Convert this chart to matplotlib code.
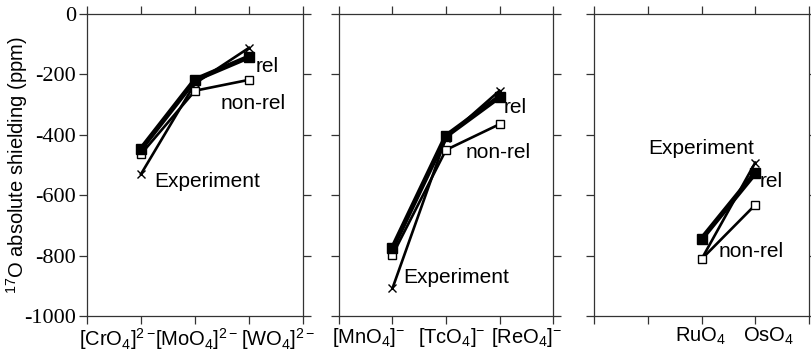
import os
import matplotlib
matplotlib.use("Agg")
import matplotlib.pyplot as plt
from matplotlib import font_manager
from matplotlib.font_manager import FontProperties

plt.rcParams['mathtext.fontset'] = 'custom'
plt.rcParams['mathtext.rm'] = 'Liberation Sans'
plt.rcParams['mathtext.it'] = 'Liberation Sans'
plt.rcParams['font.family'] = ['Liberation Sans', 'DejaVu Sans']
plt.rcParams['font.serif'] = ['Liberation Serif', 'DejaVu Serif']

# Data
cats1 = [r'$\mathregular{[CrO_4]^{2-}}$', r'$\mathregular{[MoO_4]^{2-}}$', r'$\mathregular{[WO_4]^{2-}}$']
cats2 = [r'$\mathregular{[MnO_4]^{-}}$', r'$\mathregular{[TcO_4]^{-}}$', r'$\mathregular{[ReO_4]^{-}}$']
cats3 = [r'$\mathregular{RuO_4}$', r'$\mathregular{OsO_4}$']

pos1 = [1, 2, 3]
pos2 = [1, 2, 3]
pos3 = [2, 3]

rel1 = [-447, -218, -142]
nonrel1 = [-464, -254, -218]
exp1 = [-530, -230, -112]

rel2 = [-775, -404, -274]
nonrel2 = [-798, -450, -365]
exp2 = [-908, -410, -254]

rel3 = [-745, -526]
nonrel3 = [-812, -632]
exp3 = [-812, -492]

yticks = [0, -200, -400, -600, -800, -1000]
ytick_labels = ['0', '-200', '-400', '-600', '-800', '-1000']

# label offsets (pixels) for category labels
offs1 = [-24, 2, 29]
offs2 = [-24, 6, 27]
offs3 = [-1, 13]

# annotation text positions (x, y) per panel
ann1 = {'rel': (3.13, -175), 'non-rel': (2.48, -298), 'Experiment': (1.24, -556)}
ann2 = {'rel': (3.08, -308), 'non-rel': (2.37, -457), 'Experiment': (1.21, -871)}
ann3 = {'rel': (3.09, -556), 'non-rel': (2.31, -788), 'Experiment': (1.0, -444)}

serif_path = font_manager.findfont(FontProperties(family='Liberation Serif'))
if os.path.exists(serif_path):
    serif_fp = FontProperties(fname=serif_path, size=16)
else:
    serif_fp = FontProperties(family='serif', size=16)

W, H = 812, 356
fig = plt.figure(figsize=(W / 100, H / 100), dpi=100)

panels = [
    (87, 303, pos1, cats1, rel1, nonrel1, exp1, offs1, ann1),
    (339, 553, pos2, cats2, rel2, nonrel2, exp2, offs2, ann2),
    (594, 809, pos3, cats3, rel3, nonrel3, exp3, offs3, ann3),
]
top, bot = 14, 316

for i, (x0, x1, pos, cats, rel, nonrel, exp, offs, ann) in enumerate(panels):
    ax = fig.add_axes([x0 / W, (H - bot) / H, (x1 - x0) / W, (bot - top) / H])
    ax.set_xlim(0, 4)
    ax.set_ylim(-1000, 0)
    ax.plot(pos, exp, color='black', lw=1.9, marker='x', ms=6, mew=1.0, zorder=3)
    ax.plot(pos, nonrel, color='black', lw=1.9, marker='s', ms=6, mfc='white', mec='black', mew=1.0, zorder=4)
    ax.plot(pos, rel, color='black', lw=3.6, marker='s', ms=7, mfc='black', mec='black', zorder=5)
    for k, (x, y) in ann.items():
        ax.text(x, y, k, fontsize=15, ha='left', va='center', color='black')
    ax.set_xticks([0, 1, 2, 3, 4])
    ax.set_xticklabels([])
    for p, c, o in zip(pos, cats, offs):
        ax.annotate(c, xy=(p, 0), xycoords=ax.get_xaxis_transform(),
                    xytext=(o, -10), textcoords='offset pixels',
                    ha='center', va='top', fontsize=14.5)
    ax.set_yticks(yticks)
    ax.tick_params(axis='both', direction='out', length=6, width=0.9, color='#333333',
                   top=True, right=True, bottom=True, left=True, pad=2)
    if i == 0:
        ax.set_yticklabels(ytick_labels)
        for lab in ax.get_yticklabels():
            lab.set_fontproperties(serif_fp)
        fig.text(17 / W, 0.5 * ((H - bot) + (H - top)) / H,
                 r'$\mathregular{^{17}}$O absolute shielding (ppm)', fontsize=14.5,
                 rotation=90, ha='center', va='center')
    else:
        ax.set_yticklabels([])
    for s in ax.spines.values():
        s.set_linewidth(0.9)
        s.set_color('#333333')

fig.savefig('out.png', dpi=100)
